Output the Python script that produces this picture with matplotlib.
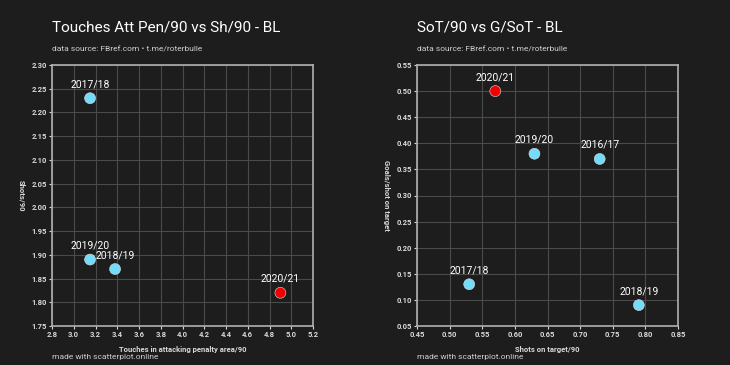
import matplotlib
matplotlib.use("Agg")
import matplotlib.pyplot as plt

# left chart
seasons_l = ["2017/18", "2019/20", "2018/19", "2020/21"]
touches = [3.15, 3.15, 3.38, 4.90]
shots = [2.23, 1.89, 1.87, 1.82]

# right chart
seasons_r = ["2020/21", "2019/20", "2016/17", "2017/18", "2018/19"]
sot = [0.57, 0.63, 0.73, 0.53, 0.79]
g_sot = [0.50, 0.38, 0.37, 0.13, 0.09]

current = "2020/21"
BG = "#1d1d1d"
CYAN = "#72dcfa"
RED = "#f20000"

plt.rcParams['font.family'] = ['Roboto', 'DejaVu Sans']

fig = plt.figure(figsize=(7.3, 3.65), dpi=100)
fig.patch.set_facecolor(BG)

W, H = 730.0, 365.0

def make_ax(x0, title, xlab, ylab, xlim, xstep, ylim, ystep, xs, ys, names, fmt):
    ax = fig.add_axes([x0 / W, 1 - 326 / H, 261 / W, 261 / H])
    ax.set_facecolor(BG)
    ax.set_xlim(*xlim)
    ax.set_ylim(*ylim)
    nx = int(round((xlim[1] - xlim[0]) / xstep))
    ny = int(round((ylim[1] - ylim[0]) / ystep))
    ax.set_xticks([xlim[0] + i * xstep for i in range(nx + 1)])
    ax.set_yticks([ylim[0] + i * ystep for i in range(ny + 1)])
    ax.xaxis.set_major_formatter(plt.FormatStrFormatter(fmt[0]))
    ax.yaxis.set_major_formatter(plt.FormatStrFormatter(fmt[1]))
    ax.grid(True, color="#4a4a4a", linewidth=0.8)
    ax.set_axisbelow(True)
    for s in ax.spines.values():
        s.set_color("#b0b0b0")
        s.set_linewidth(1.2)
    ax.tick_params(colors="#d8d8d8", labelsize=5.5, length=2.5, width=0.8, pad=1)
    for lab in ax.get_xticklabels() + ax.get_yticklabels():
        lab.set_fontweight("bold")
    cols = [RED if n == current else CYAN for n in names]
    ax.scatter(xs, ys, s=62, c=cols, edgecolors="#dddddd", linewidths=0.4, zorder=3)
    for x, y, n in zip(xs, ys, names):
        ax.annotate(n, (x, y), xytext=(0, 6.5), textcoords="offset points",
                    ha="center", va="bottom", color="white", fontsize=7.5)
    ax.set_xlabel(xlab, color="#d8d8d8", fontsize=5.5, fontweight="bold", labelpad=6)
    ax.set_ylabel(ylab, color="#d8d8d8", fontsize=5.5, fontweight="bold",
                  rotation=270, va="bottom", labelpad=10)
    fig.text(x0 / W, 1 - 28 / H, title, color="white", fontsize=11, va="center")
    fig.text(x0 / W, 1 - 49 / H, "data source: FBref.com \u2022 t.me/roterbulle",
             color="#cfcfcf", fontsize=6, va="center")
    fig.text(x0 / W, 1 - 357 / H, "made with scatterplot.online",
             color="#cfcfcf", fontsize=6, va="center")
    return ax

make_ax(52, "Touches Att Pen/90 vs Sh/90 - BL", "Touches in attacking penalty area/90",
        "Shots/90", (2.8, 5.2), 0.2, (1.75, 2.30), 0.05,
        touches, shots, seasons_l, ("%.1f", "%.2f"))
make_ax(417, "SoT/90 vs G/SoT - BL", "Shots on target/90", "Goals/shot on target",
        (0.45, 0.85), 0.05, (0.05, 0.55), 0.05,
        sot, g_sot, seasons_r, ("%.2f", "%.2f"))

fig.savefig("out.png", dpi=100, facecolor=BG)
